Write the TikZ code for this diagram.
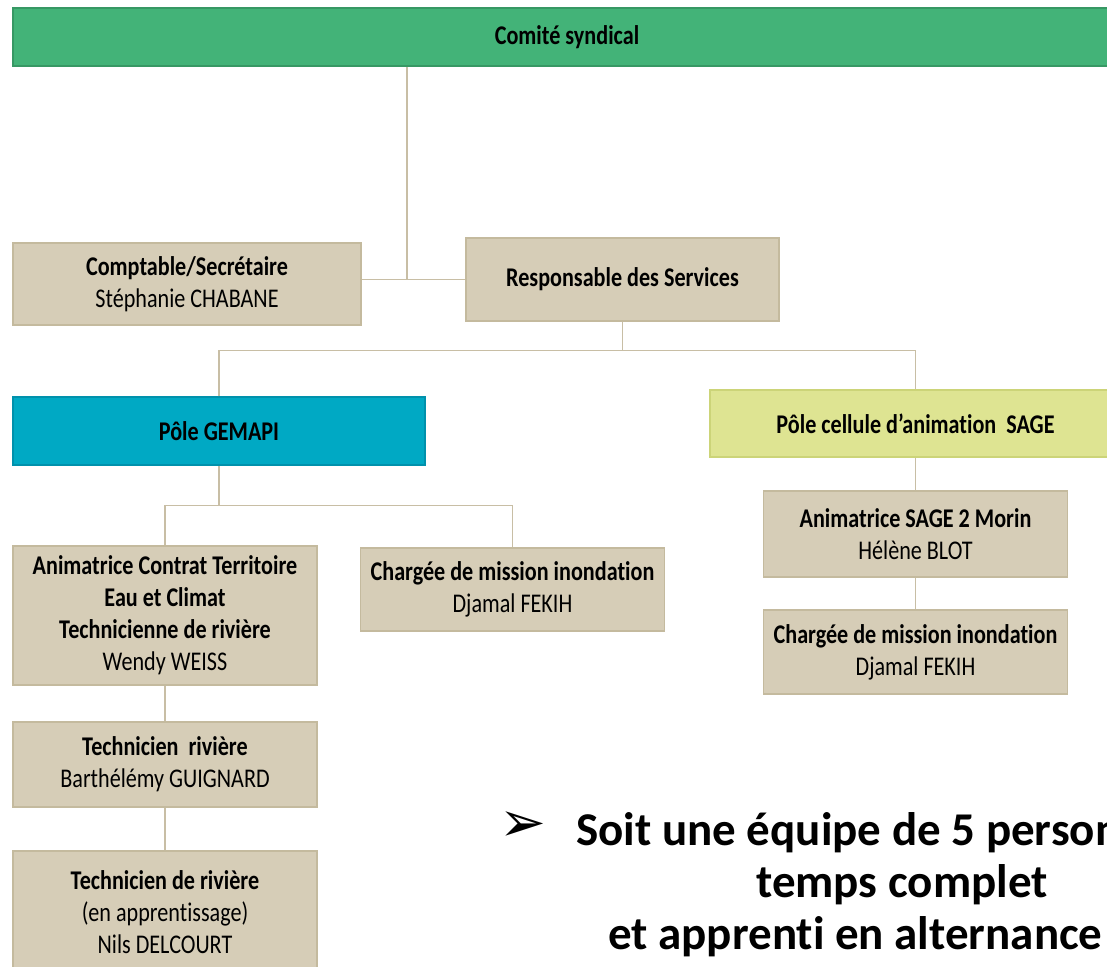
\documentclass[tikz,border=0pt]{standalone}
\usepackage{fontspec}
\setmainfont{Carlito}[FakeStretch=0.82, Ligatures=NoCommon]
\newfontfamily\bigfont{Carlito}[Ligatures=NoCommon]
\newfontfamily\symfont{DejaVu Sans}
\usepackage{tikz}
\definecolor{comitegreen}{RGB}{67,179,120}
\definecolor{comiteline}{RGB}{55,152,100}
\definecolor{gemapiblue}{RGB}{0,169,196}
\definecolor{gemapiline}{RGB}{0,145,172}
\definecolor{sageyellow}{RGB}{222,228,146}
\definecolor{sageline}{RGB}{204,212,120}
\definecolor{tanfill}{RGB}{214,205,183}
\definecolor{tanline}{RGB}{196,186,158}
\definecolor{linkcol}{RGB}{200,190,165}
\tikzset{box/.style={draw=tanline, fill=tanfill, line width=1.5pt, align=center,
        inner sep=0pt, minimum width=304pt, font=\fontsize{27}{32}\selectfont},
    pole/.style={box, font=\fontsize{27}{32}\selectfont\bfseries},
    link/.style={draw=linkcol, line width=1.2pt},
    bullet/.style={font=\bigfont\fontsize{47}{52}\selectfont\bfseries, inner sep=0pt}}

\begin{document}
\begin{tikzpicture}[x=1pt, y=-1pt]
        \useasboundingbox (0,0) rectangle (1107,966);
        \clip (0,0) rectangle (1107,966);
        \node[pole, draw=comiteline, fill=comitegreen, minimum width=1108pt, minimum height=58pt]
            (comite) at (567,37) {Comité syndical};
        \node[box, minimum width=348pt, minimum height=82pt] (compta) at (187,284)
            {{\bfseries Comptable/Secrétaire}\\Stéphanie CHABANE};
        \node[pole, minimum width=313pt, minimum height=83pt] (resp) at (622.5,279.5)
            {Responsable des Services};
        \node[pole, draw=gemapiline, fill=gemapiblue, minimum width=412pt, minimum height=68pt]
            (gemapi) at (219,431) {Pôle GEMAPI};
        \node[pole, draw=sageline, fill=sageyellow, minimum width=411pt, minimum height=67pt]
            (sage) at (915.5,423.5) {Pôle cellule d’animation~ SAGE};
        \node[box, minimum height=139pt] (animct) at (165,615.5)
            {{\bfseries Animatrice Contrat Territoire}\\{\bfseries Eau et Climat}\\
            {\bfseries Technicienne de rivière}\\Wendy WEISS};
        \node[box, minimum height=83pt] (chargea) at (512.5,589.5)
            {{\bfseries Chargée de mission inondation}\\Djamal FEKIH};
        \node[box, minimum height=85pt] (techa) at (165,764.5)
            {{\bfseries Technicien~ rivière}\\Barthélémy GUIGNARD};
        \node[box, minimum height=122pt] (techb) at (165,912)
            {{\bfseries Technicien de rivière}\\(en apprentissage)\\Nils DELCOURT};
        \node[box, minimum height=86pt] (animsage) at (915.5,534)
            {{\bfseries Animatrice SAGE 2 Morin}\\Hélène BLOT};
        \node[box, minimum height=84pt] (chargeb) at (915.5,652)
            {{\bfseries Chargée de mission inondation}\\Djamal FEKIH};
        \coordinate (cj) at (407,280);
        \draw[link] (comite.south -| cj) -- (cj);
        \draw[link] (compta.east |- resp.west) -- (resp.west);
        \draw[link] (resp.south) -- ++(0,29) coordinate (rj);
        \draw[link] (gemapi.north) |- (rj) -| (sage.north);
        \draw[link] (gemapi.south) -- ++(0,40) coordinate (gj);
        \draw[link] (animct.north) |- (gj) -| (chargea.north);
        \draw[link] (animct.south) -- (techa.north);
        \draw[link] (techa.south) -- (techb.north);
        \draw[link] (sage.south) -- (animsage.north);
        \draw[link] (animsage.south) -- (chargeb.north);
        \node[font=\symfont\fontsize{56}{60}\selectfont, inner sep=0pt] (arrow) at (523,827) {➢};
        \node[bullet, anchor=base west] (bul1) at (576,845) {Soit une équipe de 5 person};
        \node[bullet, anchor=base] (bul2) at (902,897) {temps complet};
        \node[bullet, anchor=base west] (bul3) at (608,949) {et apprenti en alternance};
    \end{tikzpicture}
\end{document}
